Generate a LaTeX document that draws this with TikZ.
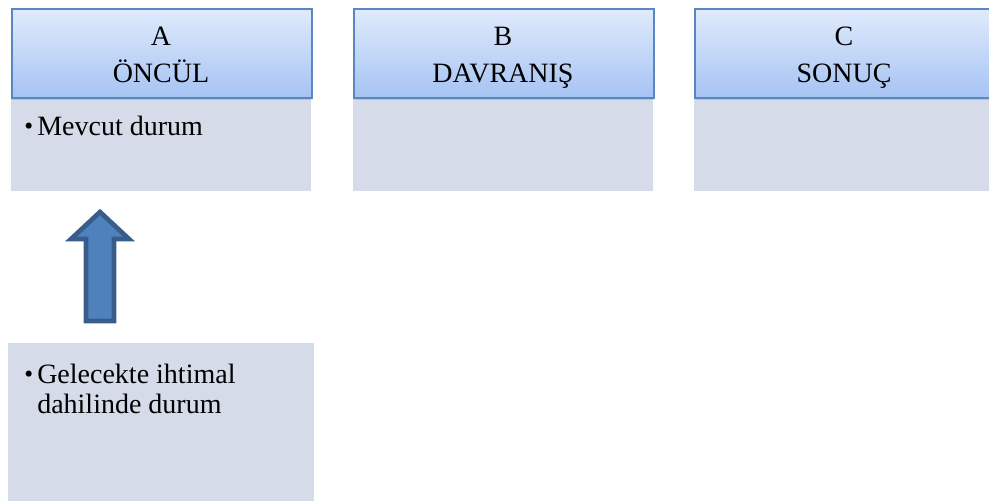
\documentclass[tikz,border=0pt]{standalone}
\usepackage{fontspec}
\setmainfont{Liberation Serif}
\usetikzlibrary{shadows}
\definecolor{headtop}{HTML}{E0EBFC}
\definecolor{headbot}{HTML}{A6C3F3}
\definecolor{headline}{HTML}{5A86C1}
\definecolor{bodyfill}{HTML}{D5DBE8}
\definecolor{arrowfill}{HTML}{4F81BD}
\definecolor{arrowline}{HTML}{385D8A}
\begin{document}
\begin{tikzpicture}[x=0.75pt,y=-0.75pt,
  header/.style={draw=headline,line width=1.2pt,top color=headtop,bottom color=headbot,
    minimum width=225pt,minimum height=66.75pt,inner sep=0pt,anchor=north west,
    drop shadow={opacity=0.25,shadow xshift=0pt,shadow yshift=-1.5pt}},
  headtext/.style={anchor=base,inner sep=0pt,font=\fontsize{21}{25}\selectfont},
  bodybox/.style={fill=bodyfill,minimum width=225pt,minimum height=70.5pt,
    inner sep=0pt,anchor=north west},
  itemtext/.style={anchor=base west,font=\fontsize{21}{25}\selectfont,inner sep=0pt},
  bulletmark/.style={anchor=base west,font=\fontsize{19}{22}\selectfont,inner sep=0pt}]
  \useasboundingbox (0,0) rectangle (989,500);
  % bodies under the headers
  \node[bodybox] (abody) at (11,97) {};
  \node[bodybox] (bbody) at (353,97) {};
  \node[bodybox] (cbody) at (694,97) {};
  % headers
  \node[header] (ahead) at (11,8) {};
  \node[header] (bhead) at (353,8) {};
  \node[header] (chead) at (694,8) {};
  % header titles
  \node[headtext] (aletter) at (161,45) {A};
  \node[headtext] (aname) at (161,82) {ÖNCÜL};
  \node[headtext] (bletter) at (503,45) {B};
  \node[headtext] (bname) at (503,82) {DAVRANIŞ};
  \node[headtext] (cletter) at (844,45) {C};
  \node[headtext] (cname) at (844,82) {SONUÇ};
  % body text
  \node[bulletmark] (abullet) at (24,134) {•};
  \node[itemtext] (atext) at (37,135) {Mevcut durum};
  % lower box
  \node[fill=bodyfill,minimum width=229.5pt,minimum height=120pt,inner sep=0pt,anchor=north west] (lower) at (8,343) {};
  \node[bulletmark] (lbullet) at (24,382) {•};
  \node[itemtext] (lline1) at (37,383) {Gelecekte ihtimal};
  \node[itemtext] (lline2) at (37,413) {dahilinde durum};
  % block arrow pointing up
  \draw[fill=arrowfill,draw=arrowline,line width=3.5pt,line join=miter]
    (86,321) -- (86,239) -- (71,239) -- (100,212) -- (129,239) -- (114,239) -- (114,321) -- cycle;
\end{tikzpicture}
\end{document}
